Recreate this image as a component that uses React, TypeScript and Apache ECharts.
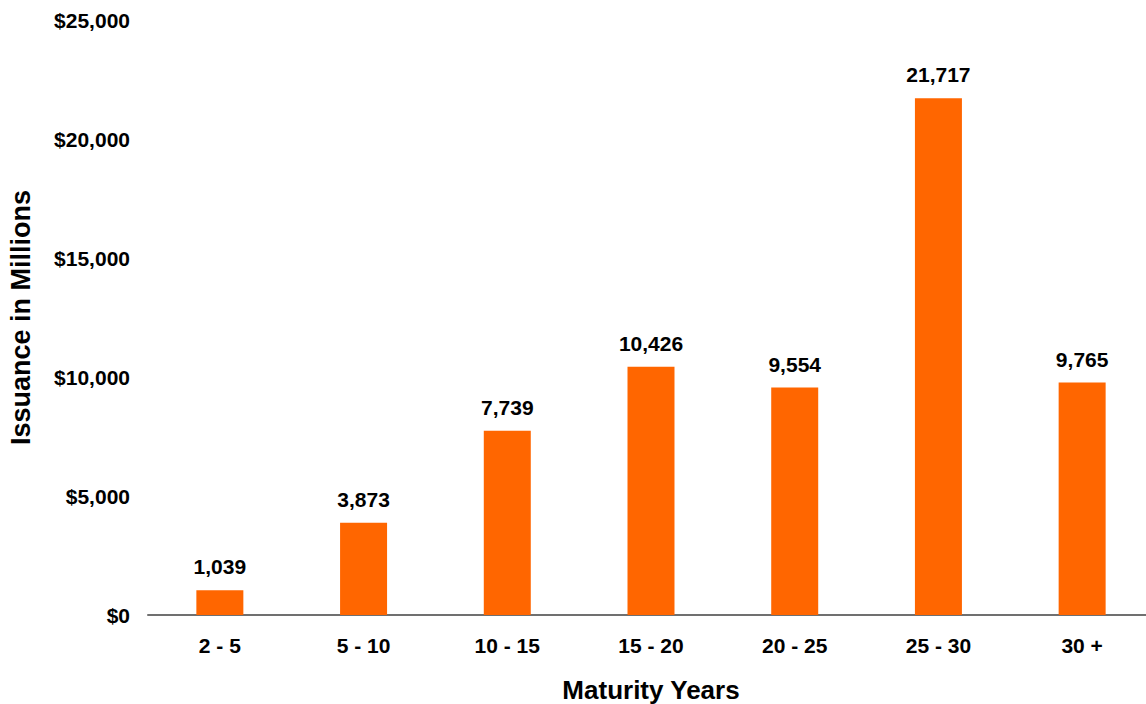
import React, { useEffect, useRef } from "react";
import * as echarts from "echarts";

const categories = ["2 - 5", "5 - 10", "10 - 15", "15 - 20", "20 - 25", "25 - 30", "30 +"];
const issuance = [1039, 3873, 7739, 10426, 9554, 21717, 9765];
const yTicks = { min: 0, max: 25000, interval: 5000 };

const FONT = "'Liberation Sans', Arial, sans-serif";

export default function App() {
  const ref = useRef<HTMLDivElement>(null);
  useEffect(() => {
    const chart = echarts.init(ref.current!, null, { renderer: "svg" });
    chart.setOption({
      animation: false,
      grid: { left: 148, right: -8, top: 20, bottom: 89, containLabel: false, outerBoundsMode: "none" },
      xAxis: {
        type: "category",
        data: categories,
        axisLine: { show: true, lineStyle: { color: "#707070", width: 2 } },
        axisTick: { show: false },
        axisLabel: { color: "#000", fontFamily: FONT, fontWeight: "bold", fontSize: 21, margin: 20 },
        name: "Maturity Years",
        nameLocation: "middle",
        nameGap: 62,
        nameTextStyle: { color: "#000", fontFamily: FONT, fontWeight: "bold", fontSize: 26 },
      },
      yAxis: {
        type: "value",
        min: yTicks.min,
        max: yTicks.max,
        interval: yTicks.interval,
        axisLine: { show: false },
        axisTick: { show: false },
        splitLine: { show: false },
        axisLabel: {
          color: "#000",
          fontFamily: FONT,
          fontWeight: "bold",
          fontSize: 21,
          margin: 18,
          formatter: (v: number) => "$" + v.toLocaleString("en-US"),
        },
        name: "Issuance in Millions",
        nameLocation: "middle",
        nameGap: 114,
        nameRotate: 90,
        nameTextStyle: { color: "#000", fontFamily: FONT, fontWeight: "bold", fontSize: 27 },
      },
      series: [
        {
          type: "bar",
          data: issuance,
          barWidth: "32.7%",
          itemStyle: { color: "#FF6600" },
          label: {
            show: true,
            position: "top",
            distance: 13,
            color: "#000",
            fontFamily: FONT,
            fontWeight: "bold",
            fontSize: 21,
            formatter: (p: any) => Number(p.value).toLocaleString("en-US"),
          },
        },
      ],
    });
    return () => chart.dispose();
  }, []);
  return (
    <div
      ref={ref}
      style={{ position: "fixed", left: 0, top: 0, width: 1146, height: 704, background: "#fff" }}
    />
  );
}
